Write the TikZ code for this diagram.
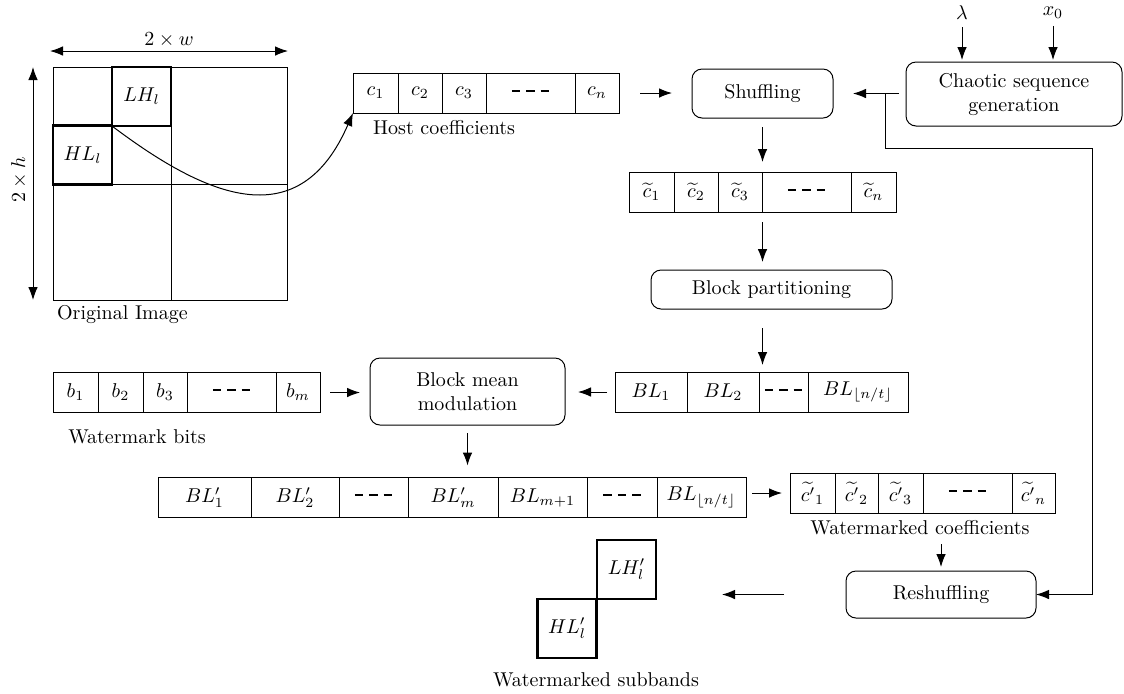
\documentclass[tikz,border=0pt]{standalone}
\usepackage{amsmath}
\usepackage{amssymb}
\usetikzlibrary{arrows.meta,positioning,calc}
\newcommand{\onedash}{\rule[0.55ex]{4.2pt}{1.1pt}}
\newcommand{\gapdash}{\onedash\hspace{3pt}\onedash\hspace{3pt}\onedash}

\begin{document}
\begin{tikzpicture}[x=0.5pt,y=-0.5pt,line width=0.5pt,
	cell/.style={draw,minimum height=20pt,inner sep=0pt,outer sep=0pt},
	proc/.style={draw,rounded corners=5pt,align=center,inner sep=0pt,outer sep=0pt},
	sub/.style={draw,line width=1.4pt,minimum size=29.5pt,inner sep=0pt,outer sep=0pt},
	arr/.style={-{Latex[length=6.5pt,width=4.8pt]}},
	dim/.style={{Latex[length=6.5pt,width=4.8pt]}-{Latex[length=6.5pt,width=4.8pt]}}]
	\useasboundingbox (0,0) rectangle (1124,693);
	% original image and its subbands
	\draw (53,67) rectangle (287,300);
	\draw (171,67) -- (171,300) (53,184) -- (287,184);
	\node[sub] (lh) at (141.5,96.5) {$LH_l$};
	\node[sub] (hl) at (82.5,155) {$HL_l$};
	\coordinate (wl) at (50,51);
	\coordinate (wr) at (288,51);
	\draw[dim] (wl) -- (wr);
	\node (wdim) at (169,40) {$2\times w$};
	\coordinate (ht) at (33,67);
	\coordinate (hb) at (33,300);
	\draw[dim] (ht) -- (hb);
	\node[rotate=90] (hdim) at (19,180) {$2\times h$};
	\node[anchor=west] (orig) at (50,314) {Original Image};
	% host coefficients
	\node[cell,minimum width=22.5pt,anchor=west] (h1) at (353,93) {$c_1$};
	\node[cell,minimum width=22pt,right=0pt of h1] (h2) {$c_2$};
	\node[cell,minimum width=22pt,right=0pt of h2] (h3) {$c_3$};
	\node[cell,minimum width=44.5pt,right=0pt of h3] (h4) {\gapdash};
	\node[cell,minimum width=22pt,right=0pt of h4] (h5) {$c_n$};
	\node[anchor=west] (hostlab) at (366,128) {Host coefficients};
	\draw[arr] (lh.south west) .. controls (210,200) and (300,235) .. (h1.south west);
	% chaotic sequence and shuffling
	\node[proc,minimum width=70.5pt,minimum height=24.5pt] (shuf) at (762.5,93.5) {Shuffling};
	\node[proc,minimum width=108pt,minimum height=32pt] (chaos) at (1014,94) {Chaotic sequence\\generation};
	\node (lam) at (962,13) {$\lambda$};
	\node (xz) at (1053,13) {$x_0$};
	\draw[arr,shorten >=1pt] (lam) -- (lam |- chaos.north);
	\draw[arr,shorten >=1pt] (xz) -- (xz |- chaos.north);
	\draw[arr,shorten <=10.5pt,shorten >=10pt] (h5.east) -- (h5.east -| shuf.west);
	\draw[arr,shorten <=3.5pt,shorten >=10pt] (chaos.west |- shuf.east) -- (shuf.east);
	\coordinate (br) at (885,93.5);
	\coordinate (bc) at (1092,148);
	% shuffled coefficients
	\node[cell,minimum width=22.5pt,anchor=west] (s1) at (629,192) {$\widetilde{c}_1$};
	\node[cell,minimum width=22pt,right=0pt of s1] (s2) {$\widetilde{c}_2$};
	\node[cell,minimum width=22pt,right=0pt of s2] (s3) {$\widetilde{c}_3$};
	\node[cell,minimum width=44.5pt,right=0pt of s3] (s4) {\gapdash};
	\node[cell,minimum width=22.5pt,right=0pt of s4] (s5) {$\widetilde{c}_n$};
	\draw[arr,shorten <=4.5pt,shorten >=5pt] (shuf.south) -- (shuf.south |- s4.north);
	\node[proc,minimum width=120.5pt,minimum height=19.5pt] (part) at (771.5,289.5) {Block partitioning};
	\draw[arr,shorten <=5pt,shorten >=4pt] (shuf.south |- s4.south) -- (shuf.south |- part.north);
	% blocks
	\node[cell,minimum width=36pt,anchor=west] (bl1) at (615,392) {$BL_1$};
	\node[cell,minimum width=36pt,right=0pt of bl1] (bl2) {$BL_2$};
	\node[cell,minimum width=24.5pt,right=0pt of bl2] (bl3) {\gapdash};
	\node[cell,minimum width=50pt,right=0pt of bl3] (bl4) {$BL_{\lfloor n/t\rfloor}$};
	\draw[arr,shorten <=9.5pt,shorten >=3.5pt] (shuf.south |- part.south) -- (shuf.south |- bl1.north);
	% watermark bits and modulation
	\node[cell,minimum width=22.5pt,anchor=west] (b1) at (53,392.5) {$b_1$};
	\node[cell,minimum width=22.5pt,right=0pt of b1] (b2) {$b_2$};
	\node[cell,minimum width=22pt,right=0pt of b2] (b3) {$b_3$};
	\node[cell,minimum width=44.5pt,right=0pt of b3] (b4) {\gapdash};
	\node[cell,minimum width=22pt,right=0pt of b4] (b5) {$b_m$};
	\node (bitlab) at (137,437) {Watermark bits};
	\node[proc,minimum width=97.5pt,minimum height=33.5pt] (bmm) at (467.5,391.5) {Block mean\\modulation};
	\draw[arr,shorten <=5pt,shorten >=5pt] (b5.east) -- (b5.east -| bmm.west);
	\draw[arr,shorten <=4pt,shorten >=6.5pt] (bl1.west) -- (bl1.west -| bmm.east);
	% modulated blocks
	\node[cell,minimum width=46.5pt,anchor=west] (bp1) at (158,497.5) {$BL'_1$};
	\node[cell,minimum width=44pt,right=0pt of bp1] (bp2) {$BL'_2$};
	\node[cell,minimum width=34.5pt,right=0pt of bp2] (bp3) {\gapdash};
	\node[cell,minimum width=45pt,right=0pt of bp3] (bp4) {$BL'_m$};
	\node[cell,minimum width=44.5pt,right=0pt of bp4] (bp5) {$BL_{m+1}$};
	\node[cell,minimum width=35pt,right=0pt of bp5] (bp6) {\gapdash};
	\node[cell,minimum width=44.5pt,right=0pt of bp6] (bp7) {$BL_{\lfloor n/t\rfloor}$};
	\draw[arr,shorten <=4pt,shorten >=6pt] (bmm.south) -- (bmm.south |- bp4.north);
	% watermarked coefficients
	\node[cell,minimum width=22.5pt,anchor=west] (w1) at (790,493) {$\widetilde{c'}_1$};
	\node[cell,minimum width=21.5pt,right=0pt of w1] (w2) {$\widetilde{c'}_2$};
	\node[cell,minimum width=22.5pt,right=0pt of w2] (w3) {$\widetilde{c'}_3$};
	\node[cell,minimum width=44.5pt,right=0pt of w3] (w4) {\gapdash};
	\node[cell,minimum width=21.5pt,right=0pt of w4] (w5) {$\widetilde{c'}_n$};
	\node (wlab) at (920,528) {Watermarked coefficients};
	\draw[arr,shorten <=3pt,shorten >=4pt] (bp7.east |- w1.west) -- (w1.west);
	% reshuffling
	\node[proc,minimum width=95pt,minimum height=23.5pt] (resh) at (941,594.5) {Reshuffling};
	\draw[arr,shorten <=1pt,shorten >=2pt] (resh.north |- wlab.south) -- (resh.north);
	\draw[arr] (br) |- (bc) |- (resh.east);
	% watermarked subbands
	\node[sub] (lhp) at (626.5,569.5) {$LH'_l$};
	\node[sub] (hlp) at (567,628.5) {$HL'_l$};
	\node (sublab) at (596,680) {Watermarked subbands};
	\draw[arr,shorten <=31pt,shorten >=33pt] (resh.west) -- (resh.west -| lhp.east);
\end{tikzpicture}
\end{document}
